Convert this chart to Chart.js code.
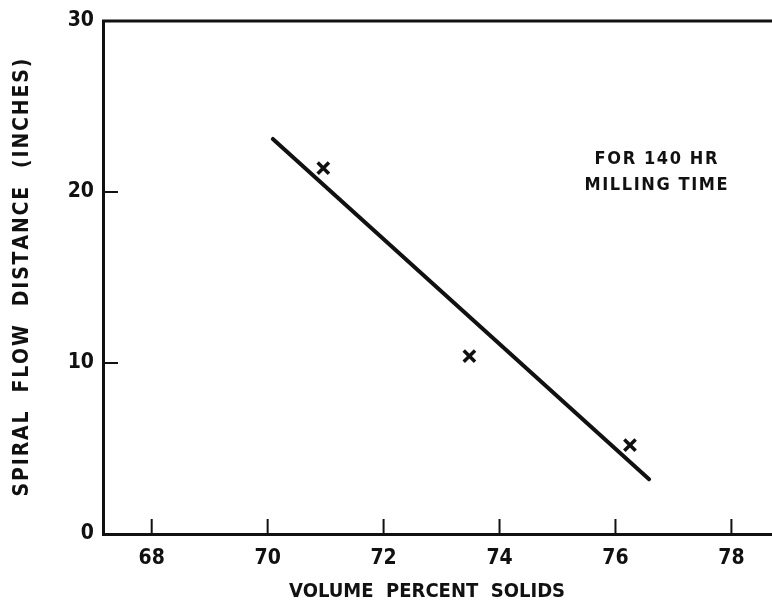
<!DOCTYPE html>
<html>
<head>
<meta charset="utf-8">
<script src="https://cdn.jsdelivr.net/npm/chart.js@4/dist/chart.umd.min.js"></script>
<style>
  html, body { margin: 0; padding: 0; background: #fff; }
  #wrap { width: 772px; height: 603px; }
</style>
</head>
<body>
<div id="wrap"><canvas id="chart"></canvas></div>
<script>
// Spiral flow distance vs volume percent solids (140 hr milling).
const X_TICKS = [68, 70, 72, 74, 76, 78];
const Y_TICKS = [0, 10, 20, 30];
const measuredX = [70.96, 73.48, 76.25];
const measuredY = [21.4, 10.4, 5.2];
const fitX = [70.09, 76.58];
const fitY = [23.1, 3.2];
const noteLines = ["FOR 140 HR", "MILLING TIME"];

const INK = "#111";
const FONT = "'Liberation Sans Narrow', 'DejaVu Sans Condensed', sans-serif";
const HAIR = String.fromCharCode(8202);

const pairs = (xs, ys) => xs.map((x, i) => ({ x: x, y: ys[i] }));
const spaced = (s) => s.split("").join(HAIR);

// Ticks in the original point inward from the axes; the frame has a top edge only.
const frameAndNotes = {
  id: "frameAndNotes",
  afterDatasetsDraw(chart) {
    const { ctx, chartArea, scales } = chart;
    ctx.save();
    ctx.strokeStyle = INK;
    ctx.lineWidth = 2;
    ctx.beginPath();
    X_TICKS.forEach((v) => {
      const px = scales.x.getPixelForValue(v);
      ctx.moveTo(px, chartArea.bottom);
      ctx.lineTo(px, chartArea.bottom - 15);
    });
    Y_TICKS.slice(1, -1).forEach((v) => {
      const py = scales.y.getPixelForValue(v);
      ctx.moveTo(chartArea.left, py);
      ctx.lineTo(chartArea.left + 15, py);
    });
    ctx.stroke();

    ctx.lineWidth = 3;
    ctx.beginPath();
    ctx.moveTo(chartArea.left - 1, chartArea.top);
    ctx.lineTo(chartArea.right, chartArea.top);
    ctx.stroke();

    // note in the upper right corner
    ctx.fillStyle = INK;
    ctx.font = "bold 18px " + FONT;
    ctx.textAlign = "center";
    ctx.textBaseline = "middle";
    const cx = scales.x.getPixelForValue(76.7);
    noteLines.forEach((line, i) => {
      const py = scales.y.getPixelForValue(21.9 - i * 1.5);
      ctx.fillText(spaced(line), cx, py);
    });

    // x title sits a little left of the axis centre in the original
    ctx.font = "bold 20px " + FONT;
    ctx.textBaseline = "alphabetic";
    ctx.fillText("VOLUME  PERCENT  SOLIDS", scales.x.getPixelForValue(72.75), 597);
    ctx.restore();
  }
};

new Chart(document.getElementById("chart"), {
  type: "scatter",
  data: {
    datasets: [
      {
        label: "fit",
        data: pairs(fitX, fitY),
        showLine: true,
        borderColor: INK,
        borderWidth: 4,
        pointRadius: 0,
        borderCapStyle: "round"
      },
      {
        label: "measured",
        data: pairs(measuredX, measuredY),
        pointStyle: "crossRot",
        pointRadius: 8,
        borderColor: INK,
        borderWidth: 3.5
      }
    ]
  },
  options: {
    responsive: true,
    maintainAspectRatio: false,
    animation: false,
    layout: { autoPadding: false, padding: { top: 21, right: 0, left: 0, bottom: 0 } },
    plugins: {
      legend: { display: false },
      tooltip: { enabled: false }
    },
    scales: {
      x: {
        type: "linear",
        min: 67.16,
        max: 78.7,
        afterBuildTicks: (scale) => {
          scale.ticks = X_TICKS.map((v) => ({ value: v }));
        },
        afterFit: (scale) => {
          scale.height = 69;
          scale.paddingLeft = 0;
          scale.paddingRight = 0;
        },
        grid: { display: false, drawTicks: false },
        border: { color: INK, width: 3 },
        ticks: {
          color: INK,
          padding: 12,
          font: { family: FONT, size: 21, weight: "bold" }
        },
        title: { display: false }
      },
      y: {
        type: "linear",
        min: 0,
        max: 30,
        afterBuildTicks: (scale) => {
          scale.ticks = Y_TICKS.map((v) => ({ value: v }));
        },
        afterFit: (scale) => {
          scale.width = 103;
          scale.paddingTop = 0;
          scale.paddingBottom = 0;
        },
        grid: { display: false, drawTicks: false },
        border: { color: INK, width: 3 },
        ticks: {
          color: INK,
          padding: 9,
          font: { family: FONT, size: 21, weight: "bold" }
        },
        title: {
          display: true,
          text: spaced("SPIRAL  FLOW  DISTANCE  (INCHES)"),
          color: INK,
          padding: { top: 10, bottom: 0 },
          font: { family: FONT, size: 21, weight: "bold" }
        }
      }
    }
  },
  plugins: [frameAndNotes]
});
</script>
</body>
</html>
